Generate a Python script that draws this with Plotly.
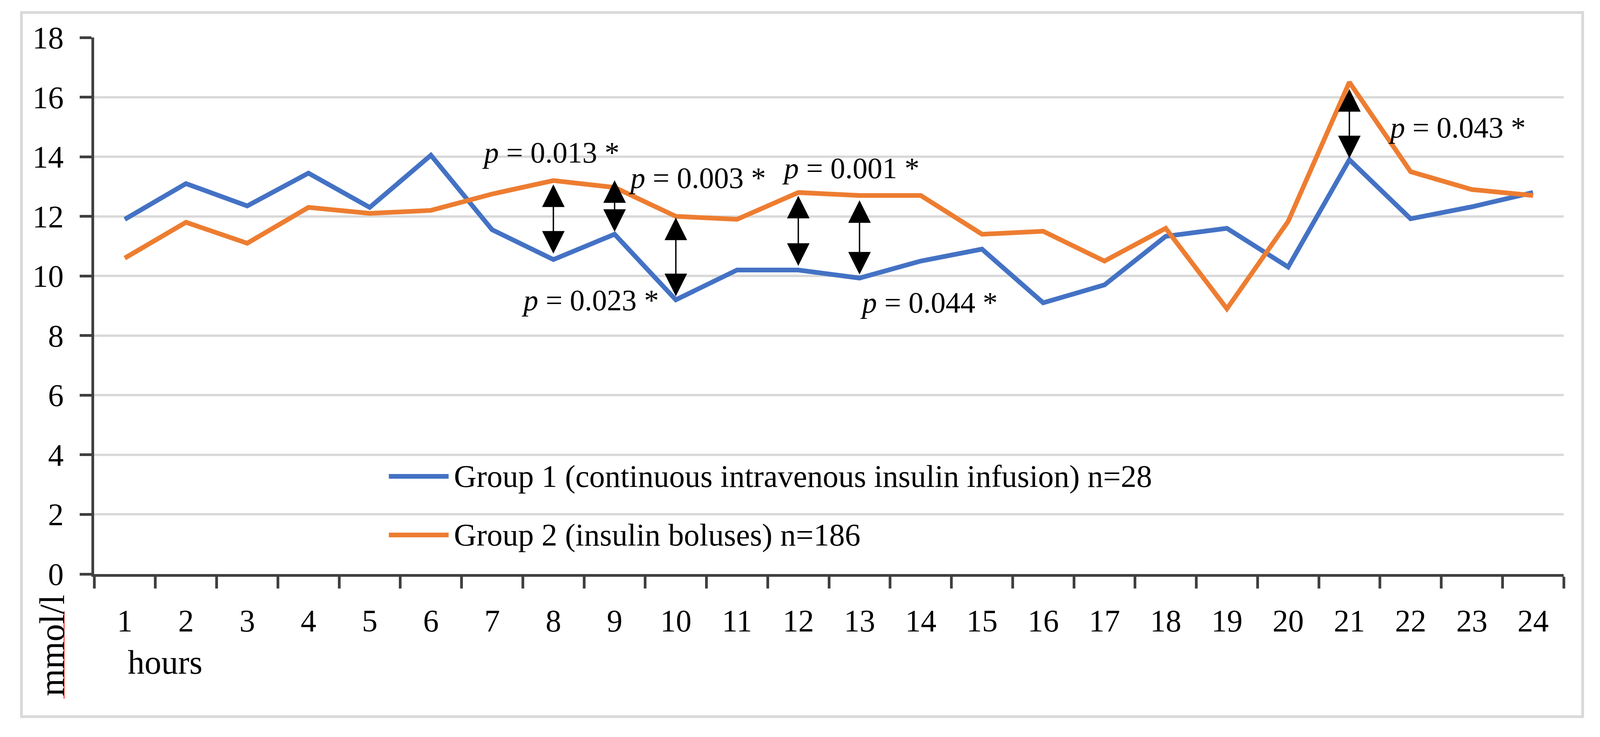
import plotly.graph_objects as go

hours = list(range(1, 25))
group1 = [11.9, 13.1, 12.35, 13.45, 12.3, 14.05, 11.55, 10.55, 11.4, 9.2, 10.2, 10.2,
          9.93, 10.5, 10.9, 9.1, 9.7, 11.33, 11.6, 10.3, 13.9, 11.92, 12.32, 12.8]
group2 = [10.6, 11.8, 11.1, 12.3, 12.1, 12.2, 12.75, 13.2, 12.97, 12.0, 11.9, 12.8,
          12.7, 12.7, 11.4, 11.5, 10.5, 11.6, 8.9, 11.83, 16.5, 13.5, 12.9, 12.7]
name1 = "Group 1 (continuous intravenous insulin infusion) n=28"
name2 = "Group 2 (insulin boluses) n=186"

# significance arrows (hour, top, bottom) and p-value labels
arrow_hours = [8, 9, 10, 12, 13, 21]
arrow_top = [13.09, 13.23, 11.98, 12.71, 12.56, 16.29]
arrow_bottom = [10.75, 11.48, 9.32, 10.34, 10.05, 13.95]
p_text = ["0.013", "0.003", "0.001", "0.023", "0.044", "0.043"]
p_x = [7.96, 10.35, 12.86, 8.6, 14.13, 22.76]
p_y = [14.15, 13.3, 13.62, 9.19, 9.11, 14.99]

BLUE, ORANGE = "#4472C4", "#ED7D31"
AXIS, GRID = "#404040", "#D9D9D9"
FONT = "Liberation Serif"

# the browser viewport is 4096x1886; body margin 8px
FW, FH = 4080, 1870
SX = 4096 / 4469


def fx(x):  # reference pixel -> figure pixel
    return x * SX - 8


def fy(y):
    return y - 8


L, R = fx(263), FW - fx(4367)
T, B = fy(96), FH - fy(1469)


def px(x):  # reference pixel -> paper x
    return (fx(x) - L) / (FW - L - R)


def py(y):
    return (FH - B - fy(y)) / (FH - T - B)


fig = go.Figure()
fig.add_scatter(x=hours, y=group1, mode="lines", name=name1,
                line=dict(color=BLUE, width=12))
fig.add_scatter(x=hours, y=group2, mode="lines", name=name2,
                line=dict(color=ORANGE, width=12))

ann = []
for h, t, b in zip(arrow_hours, arrow_top, arrow_bottom):
    ann.append(dict(x=h, y=b, ax=h, ay=t, xref="x", yref="y", axref="x", ayref="y",
                    text="", showarrow=True, arrowhead=2, startarrowhead=2,
                    arrowside="end+start", arrowwidth=3.5, arrowsize=3.3,
                    startarrowsize=3.3, arrowcolor="black", standoff=0, startstandoff=0))
for t, x, y in zip(p_text, p_x, p_y):
    ann.append(dict(x=x, y=y, xref="x", yref="y", text=f"<i>p</i> = {t} *",
                    xanchor="center", yanchor="middle", showarrow=False,
                    font=dict(family=FONT, size=76, color="black")))

# legend drawn inside the plot area
shapes = []
for name, color, yy in [(name1, BLUE, 1219), (name2, ORANGE, 1369)]:
    shapes.append(dict(type="line", xref="paper", yref="paper", x0=px(1086), x1=px(1253),
                       y0=py(yy), y1=py(yy), line=dict(color=color, width=12)))
    ann.append(dict(x=px(1266), y=py(yy), xref="paper", yref="paper", text=name,
                    xanchor="left", yanchor="middle", showarrow=False,
                    font=dict(family=FONT, size=80, color="black")))

ann.append(dict(x=px(461), y=py(1695), xref="paper", yref="paper", text="hours",
                xanchor="center", yanchor="middle", showarrow=False,
                font=dict(family=FONT, size=86, color="black")))
ann.append(dict(x=px(145), y=py(1652), xref="paper", yref="paper", text="mmol/l",
                textangle=-90, xanchor="center", yanchor="middle", showarrow=False,
                font=dict(family=FONT, size=90, color="black")))
shapes.append(dict(type="line", xref="paper", yref="paper", x0=px(179), x1=px(179),
                   y0=py(1564), y1=py(1788), line=dict(color="red", width=2)))
shapes.append(dict(type="rect", xref="paper", yref="paper", x0=px(60), x1=px(4420),
                   y0=py(1834), y1=py(32), line=dict(color=GRID, width=7), layer="below"))

fig.update_layout(
    width=FW, height=FH, margin=dict(l=L, r=R, t=T, b=B),
    plot_bgcolor="white", paper_bgcolor="white", showlegend=False,
    font=dict(family=FONT, size=80, color="black"),
    xaxis=dict(range=[0.5, 24.5], tickmode="array", tickvals=hours,
               ticktext=[str(h) for h in hours], ticks="", showgrid=False, zeroline=False,
               showline=True, linecolor=AXIS, linewidth=7, ticklabelstandoff=44,
               tickfont=dict(family=FONT, size=80),
               minor=dict(tickmode="linear", tick0=0.5, dtick=1, ticks="outside",
                          ticklen=30, tickwidth=7, tickcolor=AXIS, showgrid=False)),
    yaxis=dict(range=[0, 18], dtick=2, ticks="outside", ticklen=30, tickwidth=7,
               tickcolor=AXIS, showline=True, linecolor=AXIS, linewidth=7,
               gridcolor=GRID, gridwidth=6, zeroline=False, ticklabelstandoff=25,
               tickfont=dict(family=FONT, size=80)),
    annotations=ann, shapes=shapes,
)
fig.write_html("out.html")
